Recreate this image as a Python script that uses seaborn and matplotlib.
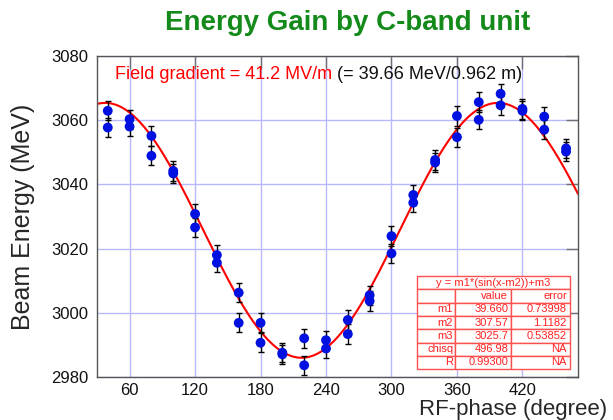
import numpy as np
import pandas as pd
import seaborn as sns
import matplotlib.pyplot as plt

# measured points (RF phase in degree, beam energy in MeV), two shots per phase
phase = [40, 40, 60, 60, 80, 80, 100, 100, 120, 120, 140, 140, 160, 160,
         180, 180, 200, 200, 220, 220, 240, 240, 260, 260, 280, 280,
         300, 300, 320, 320, 340, 340, 360, 360, 380, 380, 400, 400,
         420, 420, 440, 440, 460, 460]
energy = [3062.9, 3057.7, 3060.3, 3058.0, 3055.1, 3048.9, 3044.2, 3043.4,
          3030.8, 3026.6, 3018.0, 3015.6, 3006.3, 2996.9, 2996.9, 2990.7,
          2987.6, 2987.1, 2992.1, 2983.7, 2991.5, 2988.9, 2997.8, 2993.4,
          3005.5, 3003.7, 3023.9, 3018.5, 3036.7, 3034.3, 3047.6, 3046.8,
          3061.3, 3054.7, 3065.6, 3060.1, 3068.2, 3064.6, 3063.5, 3062.9,
          3061.1, 3057.0, 3051.2, 3050.2]
energy_err = [3.0] * len(phase)

# fit result y = m1*sin(x-m2)+m3
fit_names = ['m1', 'm2', 'm3', 'chisq', 'R']
fit_values = ['39.660', '307.57', '3025.7', '496.98', '0.99300']
fit_errors = ['0.73998', '1.1182', '0.53852', 'NA', 'NA']
m1, m2, m3 = 39.660, 307.57, 3025.7

df = pd.DataFrame({'phase': phase, 'energy': energy, 'err': energy_err})
xfit = np.linspace(30, 471, 400)
df_fit = pd.DataFrame({'phase': xfit, 'energy': m1 * np.sin(np.radians(xfit - m2)) + m3})

sns.set_theme(style='white')
plt.rcParams['font.family'] = ['Liberation Sans', 'DejaVu Sans']

fig = plt.figure(figsize=(6.13, 4.2), dpi=100)
ax = fig.add_axes([0.158, 0.102, 0.785, 0.765])

ax.errorbar(df.phase, df.energy, yerr=df.err, fmt='none', ecolor='black',
            elinewidth=1.0, capsize=2, capthick=1.0, zorder=3)
sns.scatterplot(data=df, x='phase', y='energy', color='#0010e0', s=50,
                edgecolor='none', zorder=4, ax=ax)
sns.lineplot(data=df_fit, x='phase', y='energy', color='red', linewidth=1.5,
             zorder=2, ax=ax)

ax.set_xlim(30, 471)
ax.set_ylim(2980, 3080)
ax.set_xticks([60, 120, 180, 240, 300, 360, 420])
ax.set_yticks([2980, 3000, 3020, 3040, 3060, 3080])
ax.grid(True, color='#b8b8ff', linewidth=1.0)
ax.set_axisbelow(True)
ax.tick_params(direction='in', length=9, width=1, color='#707070',
               top=True, right=True, labelsize=12, pad=6, labelcolor='#111111')
ax.tick_params(axis='x', pad=4)
for s in ax.spines.values():
    s.set_color('#555555')
    s.set_linewidth(1.0)

ax.set_xlabel('')
ax.set_ylabel('Beam Energy (MeV)', fontsize=18, labelpad=12)
fig.text(0.99, 0.0, 'RF-phase (degree)', fontsize=16, ha='right', va='bottom')
fig.text(0.567, 0.945, 'Energy Gain by C-band unit', fontsize=20,
         fontweight='bold', color='#138a1a', ha='center', va='center')

t1 = ax.text(0.038, 0.943, 'Field gradient = 41.2 MV/m', color='red',
             fontsize=13, transform=ax.transAxes, va='center')
fig.canvas.draw()
bb = t1.get_window_extent().transformed(ax.transAxes.inverted())
ax.text(bb.x1 + 0.01, 0.943, '(= 39.66 MeV/0.962 m)', color='#111111',
        fontsize=13, transform=ax.transAxes, va='center')

# fit table
x0, x1, y0, y1 = 0.665, 0.983, 0.025, 0.315
rowh = (y1 - y0) / 7
title_tab = ax.table(cellText=[['y = m1*(sin(x-m2))+m3']],
                     bbox=[x0, y1 - rowh, x1 - x0, rowh], cellLoc='center')
cells = [['', 'value', 'error']] + [[n, v, e] for n, v, e in zip(fit_names, fit_values, fit_errors)]
tab = ax.table(cellText=cells, bbox=[x0, y0, x1 - x0, y1 - y0 - rowh],
               cellLoc='right', colWidths=[0.25, 0.365, 0.385])
for t in (title_tab, tab):
    t.auto_set_font_size(False)
    t.set_fontsize(8)
    t.set_zorder(6)
    for c in t.get_celld().values():
        c.set_edgecolor('#ff5050')
        c.set_linewidth(1.0)
        c.set_facecolor('white')
        c.get_text().set_color('#ff2020')
        c.PAD = 0.05

fig.savefig('out.png', dpi=100)
